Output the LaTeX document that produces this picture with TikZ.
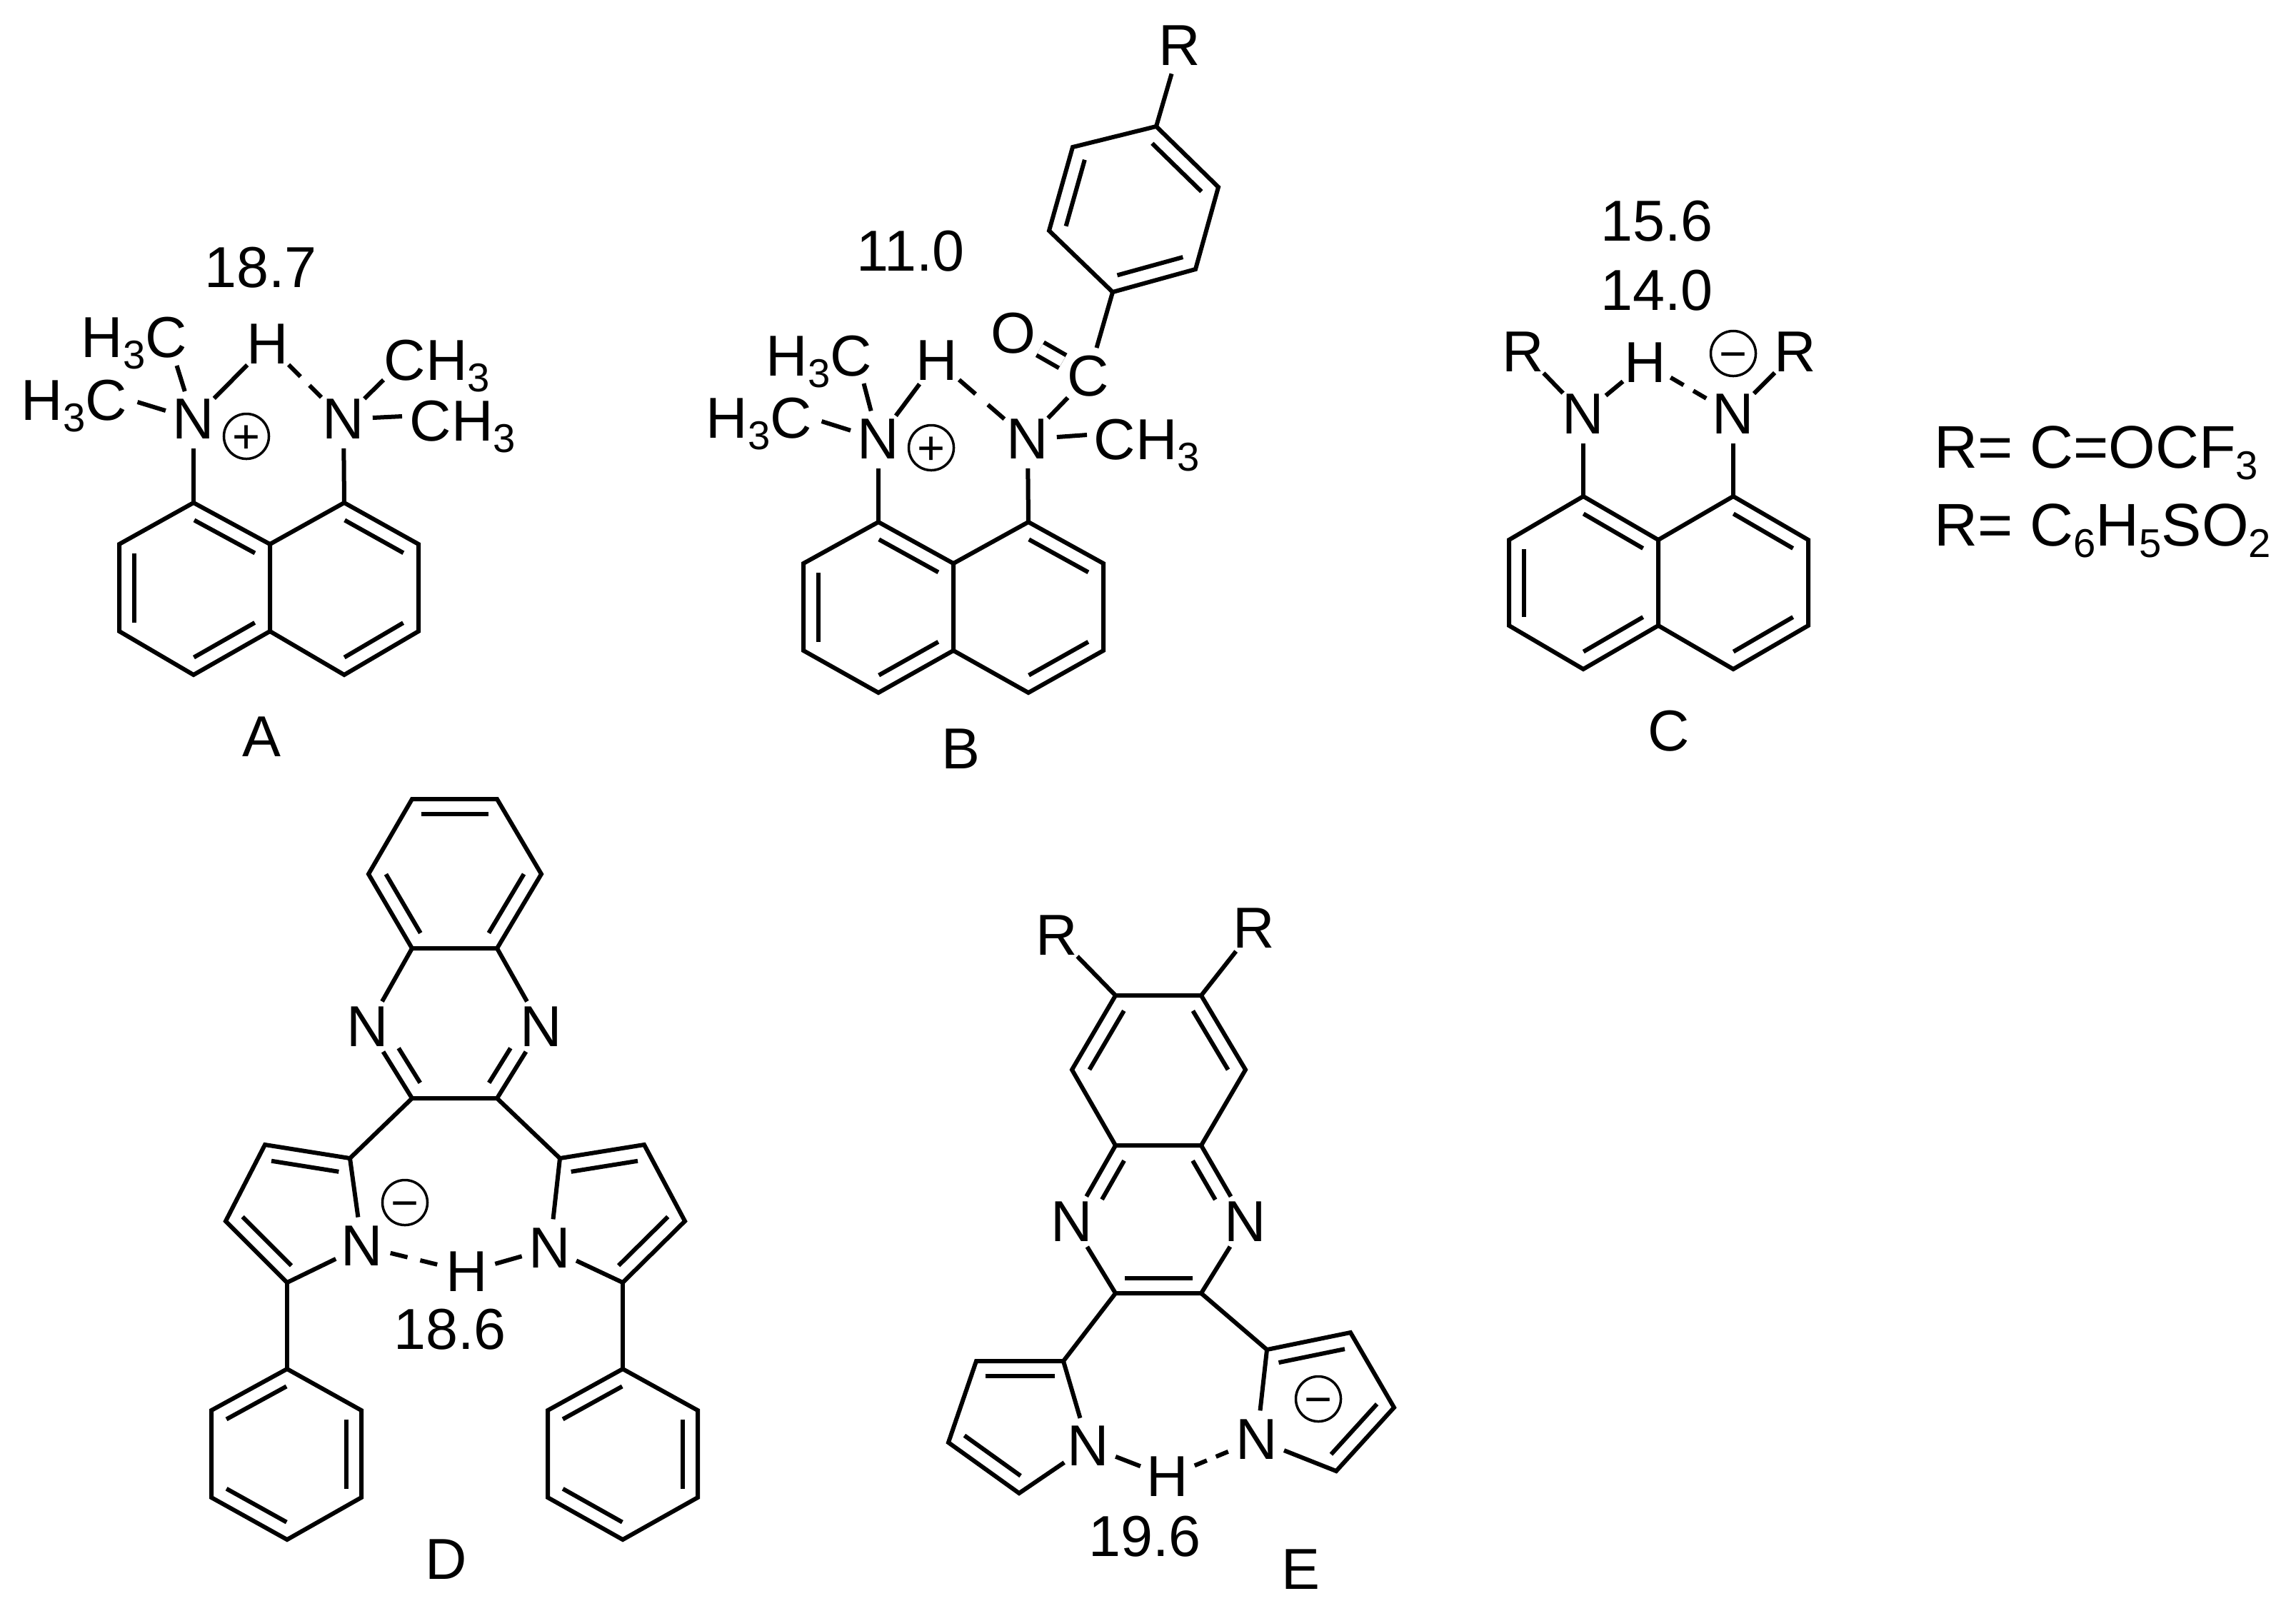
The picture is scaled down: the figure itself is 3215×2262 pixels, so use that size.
\documentclass[tikz,border=0pt]{standalone}
\usepackage{fontspec}
\setmainfont{Liberation Sans}
\usetikzlibrary{calc}
\newcommand{\subn}[1]{\raisebox{-4.8pt}{\fontsize{16}{16}\selectfont #1}}
\newcommand{\dbl}[3][]{\draw[bond,inbond,#1] ($(#2)!.21cm!-90:(#3)$) -- ($(#3)!.21cm!90:(#2)$);}
\tikzset{
    bond/.style={draw=black,line width=.06cm},
    inbond/.style={shorten <=.125cm,shorten >=.125cm},
    hbond/.style={bond,dash pattern=on #1 off .75*#1},
    cobond/.style={draw=black,line width=.06cm,double,double distance=.145cm},
    atom/.style={circle,inner sep=0pt},
    charge/.style={circle,draw=black,line width=.035cm,minimum size=.63cm,inner sep=0pt,text height=13.4pt,text depth=0pt,font=\fontsize{19}{19}\selectfont},
    lab/.style={inner sep=0pt,anchor=base west},
    val/.style={inner sep=0pt,anchor=base}
}
\begin{document}
\begin{tikzpicture}[x=.01cm,y=-.01cm,every node/.style={font=\fontsize{23}{27}\selectfont}]
    \useasboundingbox (0,0) rectangle (3215,2262);
    \foreach \n/\x/\y in {a1/271/704,a2/378/762,a3/378/884,a4/271/945,a5/167/884,a6/167/762,a7/482/704,a8/586/762,a9/586/884,a10/482/945,
        b1/1230/731,b2/1335/789,b3/1335/911,b4/1230/970,b5/1125/911,b6/1125/789,b7/1440/731,b8/1545/789,b9/1545/911,b10/1440/970,
        c1/2217/695,c2/2322/756,c3/2322/876,c4/2217/937,c5/2113/876,c6/2113/756,c7/2427/695,c8/2532/756,c9/2532/876,c10/2427/937,
        p1/1558/409,p2/1469/323,p3/1502/206,p4/1619/177,p5/1706/262,p6/1674/377,
        d1/577/1119,d2/696/1119,d3/758/1224,d4/696/1328,d5/577/1328,d6/516/1224,d7/696/1538,d8/577/1538,
        d9/490/1622,d10/402/1796,d11/316/1710,d12/371/1603,d13/784/1622,d14/902/1603,d15/959/1710,d16/872/1796,
        d17/402/1917,d18/506/1975,d19/506/2097,d20/402/2156,d21/296/2097,d22/296/1975,
        d23/872/1917,d24/977/1975,d25/977/2097,d26/872/2156,d27/767/2097,d28/767/1975,
        e1/1562/1394,e2/1682/1394,e3/1744/1498,e4/1682/1604,e5/1562/1604,e6/1501/1498,e7/1682/1811,e8/1562/1811,
        e9/1489/1906,e10/1427/2091,e11/1328/2020,e12/1367/1906,e13/1774/1890,e14/1891/1866,e15/1952/1971,e16/1871/2060} {
        \coordinate (\n) at (\x,\y);
    }
    \begin{scope}[every node/.append style={atom}]
        \node (Na1) at (271,587) {N};
        \node (Na2) at (481,587) {N};
        \node (Ha) at (375,482) {H};
        \node (Nb1) at (1230,615) {N};
        \node (Nb2) at (1439,615) {N};
        \node (Hb) at (1312,505) {H};
        \node (Cb) at (1524,527) {C};
        \node (Ob) at (1419,467) {O};
        \node (Rb) at (1652,64) {R};
        \node (Nc1) at (2217,580) {N};
        \node (Nc2) at (2427,580) {N};
        \node (Hc) at (2304,508) {H};
        \node (Rc1) at (2133,493) {R};
        \node (Rc2) at (2514,493) {R};
        \node (Nd1) at (515,1438) {N};
        \node (Nd2) at (758,1438) {N};
        \node (Nd3) at (507,1745) {N};
        \node (Nd4) at (770,1748) {N};
        \node (Hd) at (654,1781) {H};
        \node (Ne1) at (1501,1711) {N};
        \node (Ne2) at (1744,1711) {N};
        \node (Ne3) at (1524,2025) {N};
        \node (Ne4) at (1760,2016) {N};
        \node (He) at (1635,2068) {H};
        \node (Re1) at (1480,1310) {R};
        \node (Re2) at (1756,1300) {R};
    \end{scope}
    \begin{scope}[every node/.append style={lab}]
        \node (Ma1) at (113,500) {H\subn{3}C};
        \node (Ma2) at (29,588) {H\subn{3}C};
        \node (Ma3) at (537,532) {CH\subn{3}};
        \node (Ma4) at (573,617) {CH\subn{3}};
        \node (Mb1) at (1072,526) {H\subn{3}C};
        \node (Mb2) at (988,613) {H\subn{3}C};
        \node (Mb3) at (1531,643) {CH\subn{3}};
        \node[font=\fontsize{24}{28}\selectfont] (Rone) at (2708,655) {R= C=OCF\subn{3}};
        \node[font=\fontsize{24}{28}\selectfont] (Rtwo) at (2708,764) {R= C\subn{6}H\subn{5}SO\subn{2}};
    \end{scope}
    \begin{scope}[every node/.append style={val}]
        \node (va) at (365,402) {18.7};
        \node (vb) at (1275,379) {11.0};
        \node (vc1) at (2320,337) {15.6};
        \node (vc2) at (2320,434) {14.0};
        \node (vd) at (630,1889) {18.6};
        \node (ve) at (1603,2179) {19.6};
        \node (A) at (366,1059) {A};
        \node (B) at (1345,1076) {B};
        \node (C) at (2337,1051) {C};
        \node (D) at (625,2211) {D};
        \node (E) at (1821,2225) {E};
    \end{scope}
    \node[charge] (qa) at (345,611) {+};
    \node[charge] (qb) at (1304,627) {+};
    \node[charge] (qc) at (2427,495) {−};
    \node[charge] (qd) at (567,1684) {−};
    \node[charge] (qe) at (1846,1959) {−};
    \foreach \m in {a,b,c} {
        \draw[bond] (\m1) -- (\m2) -- (\m3) -- (\m4) -- (\m5) -- (\m6) -- cycle;
        \draw[bond] (\m2) -- (\m7) -- (\m8) -- (\m9) -- (\m10) -- (\m3);
        \foreach \p/\q in {1/2,3/4,5/6,7/8,9/10} {
            \dbl{\m\p}{\m\q}
        }
    }
    \draw[bond] (Na1) -- (a1);
    \draw[bond] (Na2) -- (a7);
    \draw[bond] (Na1) -- (Ha);
    \draw[hbond=.235cm] (Ha) -- (Na2);
    \draw[bond] (Na1) -- ([shift={(-15,12)}]Ma1.base east);
    \draw[bond] (Na1) -- ([shift={(14,-25)}]Ma2.base east);
    \draw[bond] (Na2) -- (Ma3.base west);
    \draw[bond] (Na2) -- ([shift={(-10,-34)}]Ma4.base west);
    \draw[bond] (Nb1) -- (b1);
    \draw[bond] (Nb2) -- (b7);
    \draw[bond] (Nb1) -- (Hb);
    \draw[hbond=.305cm] (Hb) -- (Nb2);
    \draw[bond] (Nb1) -- ([shift={(-12,11)}]Mb1.base east);
    \draw[bond] (Nb1) -- ([shift={(13,-23)}]Mb2.base east);
    \draw[bond] (Nb2) -- ([shift={(-9,-34)}]Mb3.base west);
    \draw[bond] (Nb2) -- (Cb);
    \draw[cobond] (Ob) -- (Cb);
    \draw[bond] (Cb) -- (p1);
    \draw[bond] (p1) -- (p2) -- (p3) -- (p4) -- (p5) -- (p6) -- cycle;
    \draw[bond] (p4) -- (Rb);
    \foreach \p/\q in {p2/p3,p4/p5,p6/p1} {
        \dbl{\p}{\q}
    }
    \draw[bond] (Nc1) -- (c1);
    \draw[bond] (Nc2) -- (c7);
    \draw[bond] (Nc1) -- (Hc);
    \draw[hbond=.21cm] (Hc) -- (Nc2);
    \draw[bond] (Nc1) -- (Rc1);
    \draw[bond] (Nc2) -- (Rc2);
    \draw[bond] (d1) -- (d2) -- (d3) -- (d4) -- (d5) -- (d6) -- cycle;
    \draw[bond] (d4) -- (Nd2) -- (d7) -- (d8) -- (Nd1) -- (d5);
    \draw[bond] (d8) -- (d9);
    \draw[bond] (d7) -- (d13);
    \draw[bond] (d9) -- (Nd3) -- (d10) -- (d11) -- (d12) -- (d9);
    \draw[bond] (d13) -- (d14) -- (d15) -- (d16) -- (Nd4) -- (d13);
    \draw[bond] (d10) -- (d17);
    \draw[bond] (d16) -- (d23);
    \draw[bond] (d17) -- (d18) -- (d19) -- (d20) -- (d21) -- (d22) -- cycle;
    \draw[bond] (d23) -- (d24) -- (d25) -- (d26) -- (d27) -- (d28) -- cycle;
    \foreach \p/\q in {d1/d2,d3/d4,d5/d6,d10/d11,d12/d9,d13/d14,d15/d16,d22/d17,d18/d19,d20/d21,d28/d23,d24/d25,d26/d27} {
        \dbl{\p}{\q}
    }
    \dbl[shorten <=.48cm]{Nd2}{d7}
    \dbl[shorten >=.48cm]{d8}{Nd1}
    \draw[hbond=.245cm] (Nd3) -- (Hd);
    \draw[bond] (Hd) -- (Nd4);
    \draw[bond] (e1) -- (e2) -- (e3) -- (e4) -- (e5) -- (e6) -- cycle;
    \draw[bond] (e4) -- (Ne2) -- (e7) -- (e8) -- (Ne1) -- (e5);
    \draw[bond] (e1) -- (Re1);
    \draw[bond] (e2) -- (Re2);
    \draw[bond] (e8) -- (e9);
    \draw[bond] (e7) -- (e13);
    \draw[bond] (e9) -- (Ne3) -- (e10) -- (e11) -- (e12) -- (e9);
    \draw[bond] (e13) -- (e14) -- (e15) -- (e16) -- (Ne4) -- (e13);
    \foreach \p/\q in {e2/e3,e6/e1,e7/e8,e10/e11,e12/e9,e13/e14,e15/e16} {
        \dbl{\p}{\q}
    }
    \dbl[shorten >=.48cm]{e4}{Ne2}
    \dbl[shorten <=.48cm]{Ne1}{e5}
    \draw[bond] (Ne3) -- (He);
    \draw[hbond=.185cm] (He) -- (Ne4);
\end{tikzpicture}
\end{document}
